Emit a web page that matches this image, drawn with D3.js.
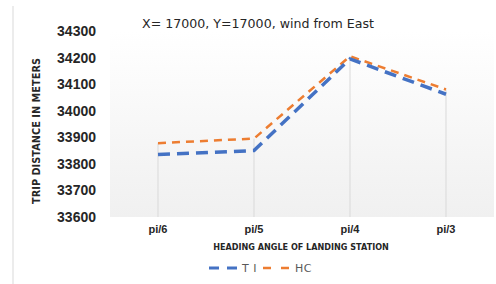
<!DOCTYPE html>
<html>
<head>
<meta charset="utf-8">
<script src="https://cdn.jsdelivr.net/npm/d3@7"></script>
<style>
  body { margin: 0; background: #fff; }
  svg { display: block; font-family: "Liberation Sans", sans-serif; }
</style>
</head>
<body>
<script>
const width = 496;
const height = 284;

// chart data
const categories = ["pi/6", "pi/5", "pi/4", "pi/3"];
const tiValues = [33835, 33850, 34195, 34062];
const hcValues = [33878, 33895, 34205, 34080];
const yTicks = [33600, 33700, 33800, 33900, 34000, 34100, 34200, 34300];

const plot = { left: 110, right: 494, top: 31, bottom: 217 };

const svg = d3.select("body").append("svg")
    .attr("width", width)
    .attr("height", height);

// gradient background of plot area
const grad = svg.append("defs").append("linearGradient")
    .attr("id", "bg")
    .attr("x1", 0).attr("y1", 0).attr("x2", 0).attr("y2", 1);
grad.append("stop").attr("offset", "0%").attr("stop-color", "#ffffff");
grad.append("stop").attr("offset", "100%").attr("stop-color", "#f0f0f0");

svg.append("rect")
    .attr("x", plot.left)
    .attr("y", plot.top)
    .attr("width", plot.right - plot.left)
    .attr("height", plot.bottom - plot.top)
    .attr("fill", "url(#bg)");

// left border line of the picture
svg.append("line")
    .attr("x1", 13).attr("x2", 13)
    .attr("y1", 6).attr("y2", height)
    .attr("stroke", "#d9d9d9")
    .attr("stroke-width", 1);

const x = d3.scaleBand()
    .domain(categories)
    .range([plot.left, plot.right]);

const y = d3.scaleLinear()
    .domain([33600, 34300])
    .range([plot.bottom, plot.top]);

const cx = d => x(d) + x.bandwidth() / 2;

// drop lines from the highest point to the axis
svg.append("g").selectAll("line")
    .data(categories)
    .join("line")
    .attr("x1", cx).attr("x2", cx)
    .attr("y1", (d, i) => y(Math.max(tiValues[i], hcValues[i])))
    .attr("y2", plot.bottom)
    .attr("stroke", "#d9d9d9")
    .attr("stroke-width", 1);

// y axis labels
const yAxis = svg.append("g")
    .attr("transform", `translate(${plot.left},0)`)
    .call(d3.axisLeft(y).tickValues(yTicks).tickSize(0).tickPadding(14).tickFormat(d3.format("d")));
yAxis.select(".domain").remove();
yAxis.selectAll("text")
    .attr("font-size", 14)
    .attr("font-weight", "bold")
    .attr("fill", "#262626")
    .attr("font-family", "'Liberation Sans', sans-serif");

// x axis labels
const xAxis = svg.append("g")
    .attr("transform", `translate(0,${plot.bottom})`)
    .call(d3.axisBottom(x).tickSize(0).tickPadding(8));
xAxis.select(".domain").remove();
xAxis.selectAll("text")
    .attr("font-size", 11)
    .attr("font-weight", "bold")
    .attr("fill", "#262626")
    .attr("font-family", "'Liberation Sans', sans-serif");

// series lines
const line = d3.line()
    .x((d, i) => cx(categories[i]))
    .y(d => y(d));

svg.append("path")
    .datum(hcValues)
    .attr("d", line)
    .attr("fill", "none")
    .attr("stroke", "#ED7D31")
    .attr("stroke-width", 2.5)
    .attr("stroke-dasharray", "8,6");

svg.append("path")
    .datum(tiValues)
    .attr("d", line)
    .attr("fill", "none")
    .attr("stroke", "#4472C4")
    .attr("stroke-width", 3.5)
    .attr("stroke-dasharray", "12,7");

// title
svg.append("text")
    .attr("x", 258)
    .attr("y", 28)
    .attr("text-anchor", "middle")
    .attr("font-size", 12.6)
    .attr("font-family", "'DejaVu Sans', sans-serif")
    .attr("fill", "#262626")
    .text("X= 17000, Y=17000, wind from East");

// axis titles
svg.append("text")
    .attr("transform", `translate(40,131) rotate(-90)`)
    .attr("text-anchor", "middle")
    .attr("font-size", 9.8)
    .attr("font-weight", "bold")
    .attr("font-family", "'DejaVu Sans', sans-serif")
    .attr("fill", "#262626")
    .text("TRIP DISTANCE IN METERS");

svg.append("text")
    .attr("x", 301)
    .attr("y", 250)
    .attr("text-anchor", "middle")
    .attr("font-size", 8.1)
    .attr("font-weight", "bold")
    .attr("font-family", "'DejaVu Sans', sans-serif")
    .attr("fill", "#262626")
    .text("HEADING ANGLE OF LANDING STATION");

// legend
const legend = [
    { name: "T I", color: "#4472C4", width: 3, dash: "10,8", x: 209, len: 31 },
    { name: "HC", color: "#ED7D31", width: 2.5, dash: "8,10", x: 263, len: 26 }
];
const lg = svg.append("g").selectAll("g")
    .data(legend)
    .join("g")
    .attr("transform", d => `translate(${d.x},268)`);
lg.append("line")
    .attr("x1", 0).attr("x2", d => d.len)
    .attr("stroke", d => d.color)
    .attr("stroke-width", d => d.width)
    .attr("stroke-dasharray", d => d.dash);
lg.append("text")
    .attr("x", d => d.len + 2)
    .attr("y", 4)
    .attr("dx", (d, i) => i === 1 ? 4 : 0)
    .attr("font-size", 11)
    .attr("font-family", "'DejaVu Sans', sans-serif")
    .attr("fill", "#595959")
    .attr("letter-spacing", 0.5)
    .text(d => d.name);
</script>
</body>
</html>
